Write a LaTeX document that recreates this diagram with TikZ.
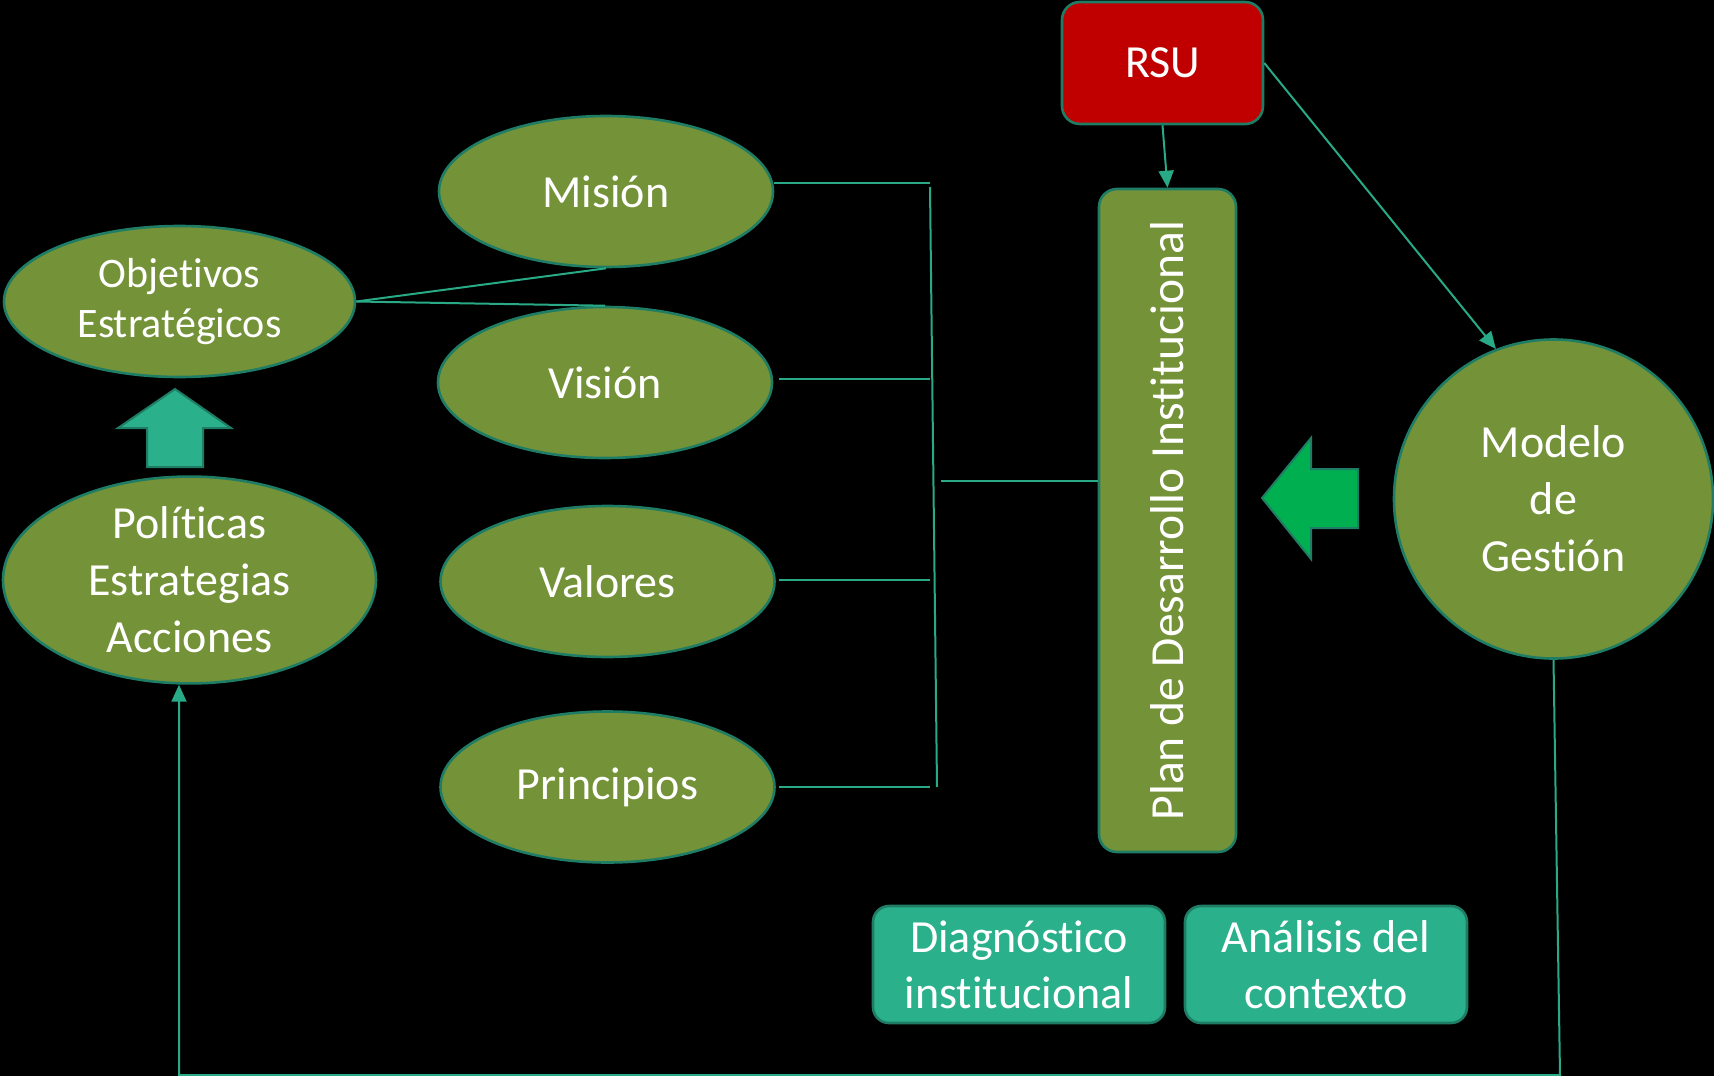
\documentclass[tikz,border=0pt]{standalone}
\usepackage{fontspec}
\setmainfont{Carlito}[Ligatures={NoCommon}]
\usetikzlibrary{shapes.geometric,arrows.meta}
\definecolor{olive}{RGB}{116,146,56}
\definecolor{edgeteal}{RGB}{30,125,100}
\definecolor{lineteal}{RGB}{41,170,135}
\definecolor{boxteal}{RGB}{43,176,140}
\definecolor{rsured}{RGB}{192,0,0}
\definecolor{arrgreen}{RGB}{0,176,80}
\tikzset{
  oval/.style={ellipse, fill=olive, draw=edgeteal, line width=1.3pt, text=white, inner sep=0pt,
    minimum width=167pt, minimum height=75.5pt, align=center,
    font=\fontsize{23}{28.5}\selectfont},
  rbox/.style={rectangle, rounded corners=9pt, draw=edgeteal, line width=1.3pt, text=white,
    inner sep=0pt, align=center, font=\fontsize{23}{28}\selectfont},
  conn/.style={draw=lineteal, line width=1pt},
  tip/.style={conn, -{Triangle[length=8.5pt,width=7.5pt]}}
}
\begin{document}
\begin{tikzpicture}[x=0.5pt,y=-0.5pt]
\fill[black] (0,0) rectangle (1714,1076);
\useasboundingbox (0,0) rectangle (1714,1076);

% nodes
\node[oval] (mis) at (606,191.5) {Misión};
\node[oval] (vis) at (605,382.5) {Visión};
\node[oval] (val) at (607.5,581.5) {Valores};
\node[oval] (pri) at (607.5,787) {Principios};
\node[oval, minimum width=175.5pt, font=\fontsize{21}{25}\selectfont] (obj) at (179.5,301.5) {Objetivos\\Estratégicos};
\node[oval, minimum width=186.5pt, minimum height=100pt] (pol) at (189.5,580) {Políticas\\Estrategias\\Acciones};
\node[circle, fill=olive, draw=edgeteal, line width=1.3pt, text=white, inner sep=0pt, minimum size=159.5pt,
  align=center, font=\fontsize{23}{28.5}\selectfont] (mod) at (1553.5,499) {Modelo\\de\\Gestión};
\node[rbox, fill=rsured, minimum width=100.5pt, minimum height=61pt] (rsu) at (1162.5,63) {RSU};
\node[rbox, fill=olive, minimum width=68.5pt, minimum height=331.5pt] (plan) at (1167.5,520.5)
  {\rotatebox{90}{\fontsize{23.75}{28}\selectfont Plan de Desarrollo Institucional}};
\node[rbox, fill=boxteal, rounded corners=8pt, minimum width=146pt, minimum height=58.5pt] (diag) at (1019,964.5) {Diagnóstico\\institucional};
\node[rbox, fill=boxteal, rounded corners=8pt, minimum width=141pt, minimum height=58.5pt] (ana) at (1326,964.5) {Análisis del\\contexto};

% bracket coordinates
\coordinate (b1) at (930,183);
\coordinate (b2) at (930,187);
\coordinate (b3) at (937,787);
\coordinate (bm) at (941,481);
\coordinate (c1) at (1560,1075);
\coordinate (c2) at (179,1075);

% connectors
\draw[conn] (mis.east |- b1) -- (b1);
\draw[conn] (b2) -- (b3);
\draw[conn] ([xshift=3pt]vis.east |- 0,379) -- (930,379);
\draw[conn] ([xshift=1.5pt]val.east |- 0,580) -- (930,580);
\draw[conn] ([xshift=1.5pt]pri.east |- 0,787) -- (930,787);
\draw[conn] (bm) -- (bm -| plan.west);
\draw[conn] (obj.east) -- (mis.south);
\draw[conn] (obj.east) -- (vis.north);
\draw[tip] (rsu.south) -- (plan.north);
\draw[tip] (rsu.east) -- (mod.111);
\draw[tip] (mod.south) -- (c1) -- (c2) -- (c2 |- pol.south);

% block arrows
\draw[fill=boxteal, draw=edgeteal, line width=1pt]
  (175,389) -- (231,428) -- (203,428) -- (203,467) -- (147,467) -- (147,428) -- (118,428) -- cycle;
\draw[fill=arrgreen, draw=edgeteal, line width=1pt]
  (1262,498) -- (1311,438) -- (1311,469) -- (1358,469) -- (1358,528) -- (1311,528) -- (1311,559) -- cycle;
\end{tikzpicture}
\end{document}
